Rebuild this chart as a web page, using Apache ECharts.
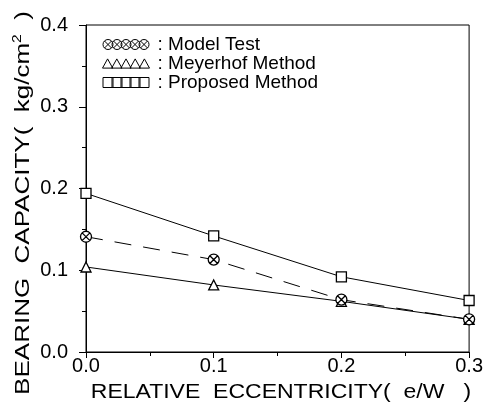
<!DOCTYPE html>
<html>
<head>
<meta charset="UTF-8"/>
<title></title>
<script src="https://cdn.jsdelivr.net/npm/echarts@6/dist/echarts.min.js"></script>
<style>
html, body { margin:0; padding:0; background:#fff; }
#chart { width:486px; height:411px; }
</style>
</head>
<body>
<div id="chart"></div>
<script type="text/javascript">
// eccentricity e/W
var ecc = [0.0, 0.1, 0.2, 0.3];
// bearing capacity, kg/cm2
var modelTest = [0.141, 0.113, 0.064, 0.040];
var meyerhof = [0.104, 0.082, 0.062, 0.040];
var proposed = [0.194, 0.142, 0.092, 0.063];
var seriesNames = ['Model Test', 'Meyerhof Method', 'Proposed Method'];

function pairs(ys) {
  var out = [];
  for (var i = 0; i < ecc.length; i++) out.push([ecc[i], ys[i]]);
  return out;
}

var font = 'Liberation Sans';
var crossCircle = 'path://M0,-10A10,10 0 1 1 0,10A10,10 0 1 1 0,-10Z M-7.07,-7.07L7.07,7.07 M7.07,-7.07L-7.07,7.07';

// legend icons: row of five overlapping symbols
function iconRow(kind) {
  var p = '';
  for (var i = 0; i < 5; i++) {
    var c = 5 + i * 9;
    if (kind == 'cross') {
      p += 'M' + c + ',0A5,5 0 1 1 ' + c + ',10A5,5 0 1 1 ' + c + ',0Z';
      p += 'M' + (c - 3.5) + ',1.5L' + (c + 3.5) + ',8.5M' + (c + 3.5) + ',1.5L' + (c - 3.5) + ',8.5';
    } else if (kind == 'tri') {
      p += 'M' + (c - 5) + ',10L' + c + ',1L' + (c + 5) + ',10Z';
    } else {
      p += 'M' + (c - 5) + ',0L' + (c + 5) + ',0L' + (c + 5) + ',10L' + (c - 5) + ',10Z';
    }
  }
  return 'path://' + p;
}

var myChart = echarts.init(document.getElementById('chart'));
var option = {
  animation: false,
  backgroundColor: '#fff',
  grid: {
    left: 86, right: 11, top: 25, bottom: 59,
    show: true, borderColor: '#000', borderWidth: 1
  },
  legend: {
    data: [
      { name: seriesNames[0], icon: iconRow('cross') },
      { name: seriesNames[1], icon: iconRow('tri') },
      { name: seriesNames[2], icon: iconRow('rect') }
    ],
    orient: 'vertical',
    left: 102, top: 35, padding: 0,
    itemWidth: 47, itemHeight: 10, itemGap: 0,
    itemStyle: { color: '#fff', borderColor: '#000', borderWidth: 1 },
    formatter: function (name) { return ': ' + name; },
    textStyle: { fontFamily: font, fontSize: 19, color: '#000', lineHeight: 17, padding: [0, 0, 0, 3] }
  },
  xAxis: {
    type: 'value',
    min: 0, max: 0.3, interval: 0.1,
    axisLine: { lineStyle: { color: '#000', width: 1 } },
    axisTick: { inside: false, length: 6, lineStyle: { color: '#000' } },
    minorTick: { show: true, splitNumber: 2, length: 4, lineStyle: { color: '#000' } },
    splitLine: { show: false },
    axisLabel: {
      fontFamily: font, fontSize: 20, color: '#000', margin: 4,
      formatter: function (v) { return v.toFixed(1); }
    }
  },
  yAxis: {
    type: 'value',
    min: 0, max: 0.4, interval: 0.1,
    axisLine: { show: true, lineStyle: { color: '#000', width: 1 } },
    axisTick: { show: true, inside: false, length: 7, lineStyle: { color: '#000' } },
    minorTick: { show: true, splitNumber: 2, length: 4, lineStyle: { color: '#000' } },
    splitLine: { show: false },
    axisLabel: {
      fontFamily: font, fontSize: 20, color: '#000', margin: 18,
      formatter: function (v) { return v.toFixed(1); }
    }
  },
  series: [
    {
      name: seriesNames[2], type: 'line', data: pairs(proposed),
      symbol: 'rect', symbolSize: 10,
      lineStyle: { color: '#000', width: 1 },
      itemStyle: { color: '#fff', borderColor: '#000', borderWidth: 1.3 }
    },
    {
      name: seriesNames[1], type: 'line', data: pairs(meyerhof),
      symbol: 'triangle', symbolSize: 10,
      lineStyle: { color: '#000', width: 1 },
      itemStyle: { color: '#fff', borderColor: '#000', borderWidth: 1.3 }
    },
    {
      name: seriesNames[0], type: 'line', data: pairs(modelTest),
      symbol: crossCircle, symbolSize: 11,
      lineStyle: { color: '#000', width: 1, type: [17, 12] },
      itemStyle: { color: '#fff', borderColor: '#000', borderWidth: 1.3 }
    }
  ],
  graphic: [
    {
      // x axis title
      type: 'text', x: 281, y: 392, scaleX: 1.15,
      style: {
        text: 'RELATIVE  ECCENTRICITY(  e/W   )',
        font: '20px Liberation Sans', fill: '#000',
        align: 'center', verticalAlign: 'middle'
      }
    },
    {
      // y axis title, rotated
      type: 'text', x: 23, y: 203, rotation: Math.PI / 2, scaleX: 1.3,
      style: {
        text: '{n|BEARING  CAPACITY(  kg/cm}{s|2}{n|  )}',
        align: 'center', verticalAlign: 'middle', fill: '#000',
        rich: {
          n: { font: '20px Liberation Sans', fill: '#000' },
          s: { font: '12px Liberation Sans', fill: '#000', verticalAlign: 'top', padding: [0, 0, 10, 0] }
        }
      }
    }
  ]
};
myChart.setOption(option);
</script>
</body>
</html>
